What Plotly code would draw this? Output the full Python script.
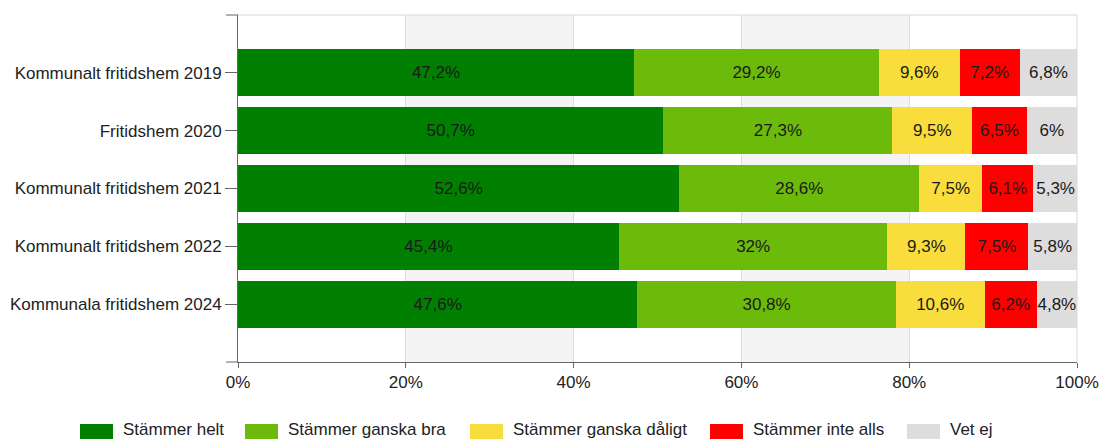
import plotly.graph_objects as go

# Survey categories (top to bottom) and answer shares in percent
categories = [
    "Kommunalt fritidshem 2019",
    "Fritidshem 2020",
    "Kommunalt fritidshem 2021",
    "Kommunalt fritidshem 2022",
    "Kommunala fritidshem 2024",
]
stammer_helt = [47.2, 50.7, 52.6, 45.4, 47.6]
stammer_ganska_bra = [29.2, 27.3, 28.6, 32, 30.8]
stammer_ganska_daligt = [9.6, 9.5, 7.5, 9.3, 10.6]
stammer_inte_alls = [7.2, 6.5, 6.1, 7.5, 6.2]
vet_ej = [6.8, 6, 5.3, 5.8, 4.8]

series_names = ["Stämmer helt", "Stämmer ganska bra", "Stämmer ganska dåligt",
                "Stämmer inte alls", "Vet ej"]
series_values = [stammer_helt, stammer_ganska_bra, stammer_ganska_daligt,
                 stammer_inte_alls, vet_ej]
series_colors = ["#007f00", "#6cbb0b", "#f9dd3c", "#fe0000", "#dddddd"]

x_ticks = [0, 20, 40, 60, 80, 100]
x_tick_labels = ["0%", "20%", "40%", "60%", "80%", "100%"]

FONT = "Liberation Sans, Arial, sans-serif"
FS = 17

# Plot area geometry in pixels (used for the hand-drawn legend row)
W, H = 1100, 439
ML, MR, MT, MB = 238, 23, 15, 77
PW, PH = W - ML - MR, H - MT - MB


def px_x(px):
    return (px - ML) / PW


def px_y(py):
    return (H - MB - py) / PH


def pct_label(v):
    return f"{v:g}%".replace(".", ",")


fig = go.Figure()
for name, values, color in zip(series_names, series_values, series_colors):
    fig.add_trace(go.Bar(
        name=name,
        y=categories,
        x=values,
        orientation="h",
        marker=dict(color=color, line=dict(width=0)),
        width=0.81,
        text=[pct_label(v) for v in values],
        textposition="inside",
        insidetextanchor="middle",
        textangle=0,
        textfont=dict(family=FONT, size=FS, color="#1a1a1a"),
        constraintext="none",
        hoverinfo="skip",
        showlegend=False,
    ))

shapes = []
annotations = []
# Alternating background bands and plot frame
for x0, x1 in [(20, 40), (60, 80)]:
    shapes.append(dict(type="rect", xref="x", yref="paper", x0=x0, x1=x1, y0=0, y1=1,
                       fillcolor="#f4f4f4", line=dict(width=0), layer="below"))
shapes.append(dict(type="line", xref="paper", yref="paper", x0=0, x1=1, y0=1, y1=1,
                   line=dict(color="#d8d8d8", width=1), layer="below"))
shapes.append(dict(type="line", xref="paper", yref="paper", x0=1, x1=1, y0=0, y1=1,
                   line=dict(color="#d8d8d8", width=1), layer="below"))
# Axis-line extensions to the left at the top and bottom of the value axis
for yy in (0, 1):
    shapes.append(dict(type="line", xref="paper", yref="paper", x0=-12 / PW, x1=0, y0=yy, y1=yy,
                       line=dict(color="#666666", width=1)))

# Legend row below the chart: swatch left edges in pixels
legend_x = [80, 245, 470, 710, 907]
for name, color, lx in zip(series_names, series_colors, legend_x):
    shapes.append(dict(type="rect", xref="paper", yref="paper",
                       x0=px_x(lx), x1=px_x(lx + 33), y0=px_y(440), y1=px_y(424),
                       fillcolor=color, line=dict(width=0)))
    annotations.append(dict(xref="paper", yref="paper", x=px_x(lx + 41), y=px_y(429),
                            xanchor="left", yanchor="middle", showarrow=False,
                            text=name, font=dict(family=FONT, size=FS, color="#222222")))

fig.update_layout(
    barmode="stack",
    width=W,
    height=H,
    autosize=False,
    margin=dict(l=ML, r=MR, t=MT, b=MB, autoexpand=False),
    paper_bgcolor="white",
    plot_bgcolor="white",
    font=dict(family=FONT, size=FS, color="#222222"),
    shapes=shapes,
    annotations=annotations,
    showlegend=False,
    xaxis=dict(
        range=[0, 100],
        tickvals=x_ticks,
        ticktext=x_tick_labels,
        showgrid=True,
        gridcolor="#dcdcdc",
        gridwidth=1,
        zeroline=False,
        showline=True,
        linecolor="#666666",
        linewidth=1,
        ticks="outside",
        ticklen=5,
        tickcolor="#666666",
        tickfont=dict(family=FONT, size=FS, color="#222222"),
        automargin=False,
        fixedrange=True,
    ),
    yaxis=dict(
        categoryorder="array",
        categoryarray=categories,
        range=[5, -1],
        showgrid=False,
        zeroline=False,
        showline=True,
        linecolor="#666666",
        linewidth=1,
        ticks="outside",
        ticklen=12,
        tickcolor="#666666",
        tickfont=dict(family=FONT, size=FS, color="#222222"),
        automargin=False,
        fixedrange=True,
    ),
)

fig.write_html("out.html")
